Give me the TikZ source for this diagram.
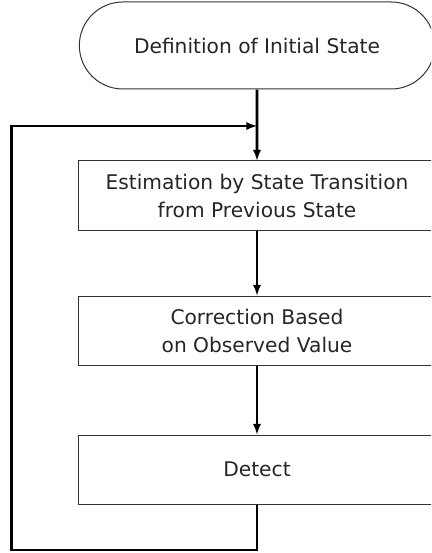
\documentclass[tikz,border=0pt]{standalone}
\usepackage{fontspec}
\setmainfont{DejaVu Sans}
\usepackage{tikz}
\usetikzlibrary{positioning, arrows, shapes.misc}

\tikzset{
	startstate/.style = {rounded rectangle, draw=black!80, line width=1pt, minimum width=362pt, minimum height=87pt, font=\fontsize{20.2}{28}\selectfont, text=black!85},
	stepbox/.style    = {rectangle, draw=black!80, line width=1pt, minimum width=358pt, minimum height=69pt, align=center, font=\fontsize{20.2}{28}\selectfont, text=black!85},
	flow/.style       = {->, >=latex, line width=2.6pt}
}

\begin{document}
\begin{tikzpicture}[x=1pt, y=-1pt, node distance = 68pt]
				\useasboundingbox (0,0) rectangle (431,553);
				\clip (0,0) rectangle (431,553);
				
				\node[startstate] (init)                     at (257,45.5) {Definition of Initial State};
				\node[stepbox]    (estim)  [below = 71pt of init]        {Estimation by State Transition\\from Previous State};
				\node[stepbox]    (correct)[below = 65pt of estim]       {Correction Based\\on Observed Value};
				\node[stepbox]    (detect) [below = 69pt of correct]     {Detect};
				
				\coordinate (join)   at (257,126);
				\coordinate (corner) at (11.5,550);
				
				\path[flow]
				(init)    edge (estim)
				(estim)   edge (correct)
				(correct) edge (detect)
				;
				
				% feedback loop back to the top
				\draw[flow] (detect.south) |- (corner) |- (join);
				
			\end{tikzpicture}
\end{document}
